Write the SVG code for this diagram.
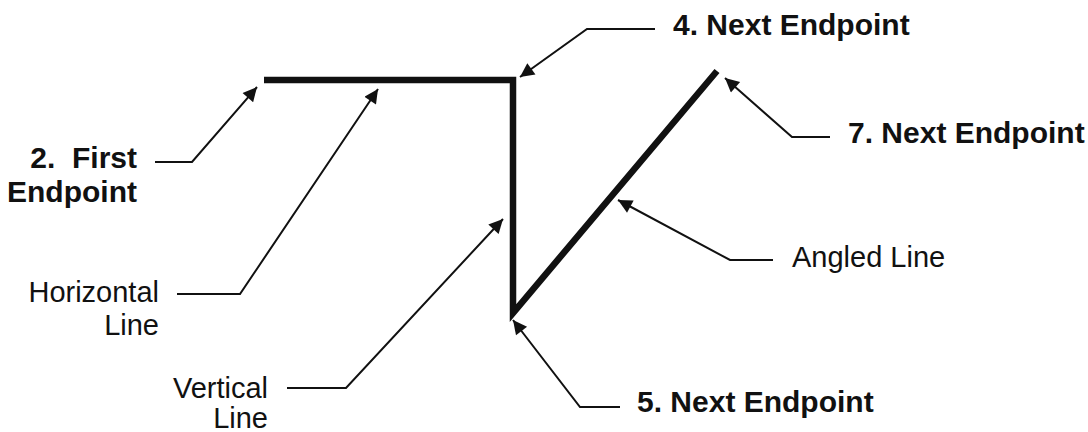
<svg xmlns="http://www.w3.org/2000/svg" width="1088" height="432" viewBox="0 0 1088 432">
<style>
.b{font-family:"Liberation Sans",Arial,sans-serif;font-weight:bold;font-size:30px;fill:#111}
.r{font-family:"Liberation Sans",Arial,sans-serif;font-size:29px;fill:#111}
.ld{fill:none;stroke:#111;stroke-width:2;marker-end:url(#ah)}
</style>
<defs>
<marker id="ah" viewBox="0 0 10 10" refX="10" refY="5" markerWidth="8" markerHeight="7" markerUnits="strokeWidth" orient="auto">
<path d="M0,0 L10,5 L0,10 z" fill="#111"/>
</marker>
</defs>
<rect width="1088" height="432" fill="#fff"/>
<g id="shape">
<path d="M264,80 H513 V313 L717,71" fill="none" stroke="#111" stroke-width="6.5" stroke-linejoin="miter"/>
</g>
<g id="connectors">
<path class="ld" d="M155,162 H192 L257,87"/>
<path class="ld" d="M177,294 H240 L378,89"/>
<path class="ld" d="M287,388 H346 L503,219"/>
<path class="ld" d="M655,29 H587 L520,77"/>
<path class="ld" d="M830,137 H792 L725,78"/>
<path class="ld" d="M773,260 H730 L618,200"/>
<path class="ld" d="M620,407 H580 L513,320"/>
</g>
<g id="first"><text class="b" x="137" y="168" text-anchor="end">2.&#160; First</text><text class="b" x="137" y="202" text-anchor="end">Endpoint</text></g>
<g id="horizontal"><text class="r" x="159" y="302" text-anchor="end">Horizontal</text><text class="r" x="159" y="335" text-anchor="end">Line</text></g>
<g id="vertical"><text class="r" x="268" y="398" text-anchor="end">Vertical</text><text class="r" x="268" y="428" text-anchor="end">Line</text></g>
<g id="next4"><text class="b" x="673" y="35">4. Next Endpoint</text></g>
<g id="next7"><text class="b" x="848" y="143">7. Next Endpoint</text></g>
<g id="angled"><text class="r" x="792" y="267">Angled Line</text></g>
<g id="next5"><text class="b" x="637" y="412">5. Next Endpoint</text></g>
</svg>
